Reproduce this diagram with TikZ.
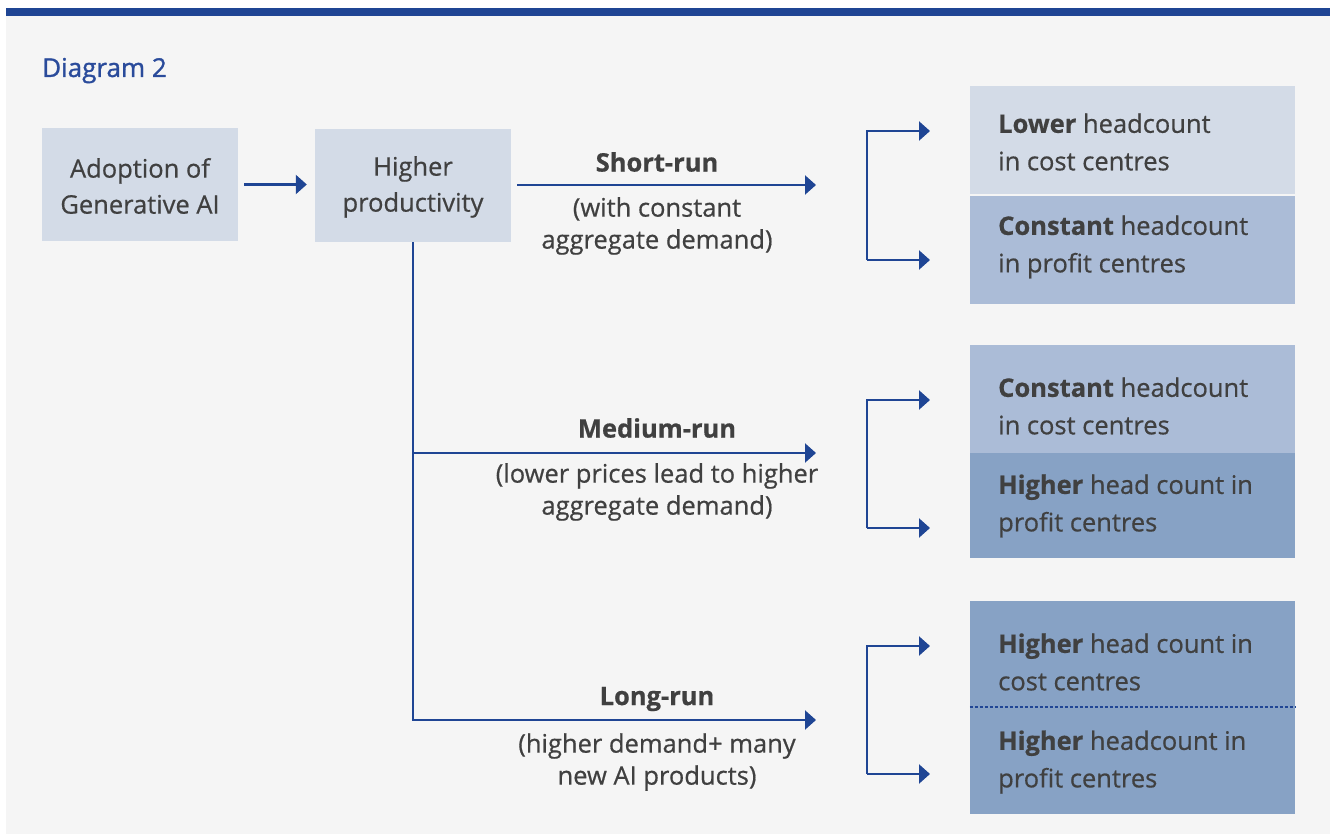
\documentclass[tikz,border=0pt]{standalone}
\usepackage{fontspec}
\setmainfont{Open Sans}[FakeBold=0.6]
\newfontfamily\titlefont{Open Sans}[FakeBold=1.2]
\usetikzlibrary{arrows.meta}
\definecolor{navy}{HTML}{1F4594}
\definecolor{titleblue}{HTML}{2A4B9B}
\definecolor{pagegray}{HTML}{F5F5F5}
\definecolor{boxlight}{HTML}{D3DBE7}
\definecolor{boxmid}{HTML}{ABBCD7}
\definecolor{boxdark}{HTML}{87A2C5}
\definecolor{ink}{HTML}{404040}
\tikzset{
  flow/.style={draw=navy, line width=2.2pt, -{Triangle[length=11pt,width=19pt]}},
  link/.style={draw=navy, line width=2.2pt},
  stagebox/.style={fill=boxlight, minimum width=196pt, minimum height=113pt, inner sep=0pt},
  outbox/.style={minimum width=325pt, inner sep=0pt},
  bodytext/.style={text=ink, font=\fontsize{25.5}{36}\selectfont, align=center, inner sep=0pt},
  outtext/.style={text=ink, font=\fontsize{25.5}{37.5}\selectfont, align=left, anchor=west, inner sep=0pt},
  runlabel/.style={text=ink, font=\fontsize{25.5}{32}\selectfont, align=center, inner sep=0pt},
  runhead/.style={runlabel, font=\fontsize{25.5}{32}\selectfont\bfseries},
}
\begin{document}
\begin{tikzpicture}[x=1pt, y=-1pt]
  \useasboundingbox (0,0) rectangle (1330,834);
  \fill[white] (0,0) rectangle (1330,834);
  \fill[pagegray] (6,16) rectangle (1330,834);
  \fill[navy] (6,8) rectangle (1330,16);

  \node[anchor=base west, text=titleblue, font=\fontsize{26}{28}\titlefont, inner sep=0pt] (title) at (42,77) {Diagram 2};

  % left-hand stages
  \node[stagebox] (adopt) at (140,184.5) {};
  \node[bodytext] (adoptT) at (140,186) {Adoption of\\Generative AI};
  \node[stagebox] (prod) at (413,185.5) {};
  \node[bodytext] (prodT) at (413,187) {Higher\\productivity};
  \draw[flow, shorten <=6pt, shorten >=8pt] (adopt.east) -- (prod.west |- adopt.east);

  % horizon arrows
  \coordinate (shortEnd) at (816,185);
  \coordinate (medStart) at (413,453);
  \coordinate (medEnd) at (816,453);
  \coordinate (longStart) at (413,720);
  \coordinate (longEnd) at (816,720);
  \draw[flow, shorten <=6pt] (prod.east |- shortEnd) -- (shortEnd);
  \draw[link] (prod.south) -- (longStart);
  \draw[flow] (medStart) -- (medEnd);
  \draw[flow] ([xshift=-1.1pt]longStart) -- (longEnd);

  \node[runhead] (shortL) at (657,162) {Short-run};
  \node[runlabel] (shortD) at (657,226) {(with constant\\aggregate demand)};
  \node[runhead] (medL) at (657,428) {Medium-run};
  \node[runlabel] (medD) at (657,492) {(lower prices lead to higher\\aggregate demand)};
  \node[runhead] (longL) at (657,699) {Long-run};
  \node[runlabel] (longD) at (657,762) {(higher demand+ many\\new AI products)};

  % outcome boxes
  \node[outbox, fill=boxlight, minimum height=108pt] (s1) at (1132.5,140) {};
  \node[outbox, fill=boxmid, minimum height=108pt] (s2) at (1132.5,250) {};
  \node[outbox, fill=boxmid, minimum height=108pt] (m1) at (1132.5,399) {};
  \node[outbox, fill=boxdark, minimum height=105pt] (m2) at (1132.5,505.5) {};
  \node[outbox, fill=boxdark, minimum height=213pt] (l1) at (1132.5,707.5) {};
  \draw[navy, line width=1.2pt, dash pattern=on 3pt off 2pt] (l1.west |- 0,707) -- (l1.east |- 0,707);

  \node[outtext] (s1T) at (998,142) {\textbf{Lower} headcount\\in cost centres};
  \node[outtext] (s2T) at (998,247) {\textbf{Constant} headcount\\in profit centres};
  \node[outtext] (m1T) at (998,406) {\textbf{Constant} headcount\\in cost centres};
  \node[outtext] (m2T) at (998,506) {\textbf{Higher} head count in\\profit centres};
  \node[outtext] (l1T) at (998,662) {\textbf{Higher} head count in\\cost centres};
  \node[outtext] (l2T) at (998,762) {\textbf{Higher} headcount in\\profit centres};

  % brackets fanning out to the outcomes
  \foreach \n/\top/\bot in {a/131/260, b/400/528, c/646/774} {
    \coordinate (\n top) at (867,\top);
    \coordinate (\n bot) at (867,\bot);
    \coordinate (\n topEnd) at (930,\top);
    \coordinate (\n botEnd) at (930,\bot);
    \draw[flow] (\n bot) -- (\n top) -- (\n topEnd);
    \draw[flow] (\n bot) -- (\n botEnd);
  }
\end{tikzpicture}
\end{document}
